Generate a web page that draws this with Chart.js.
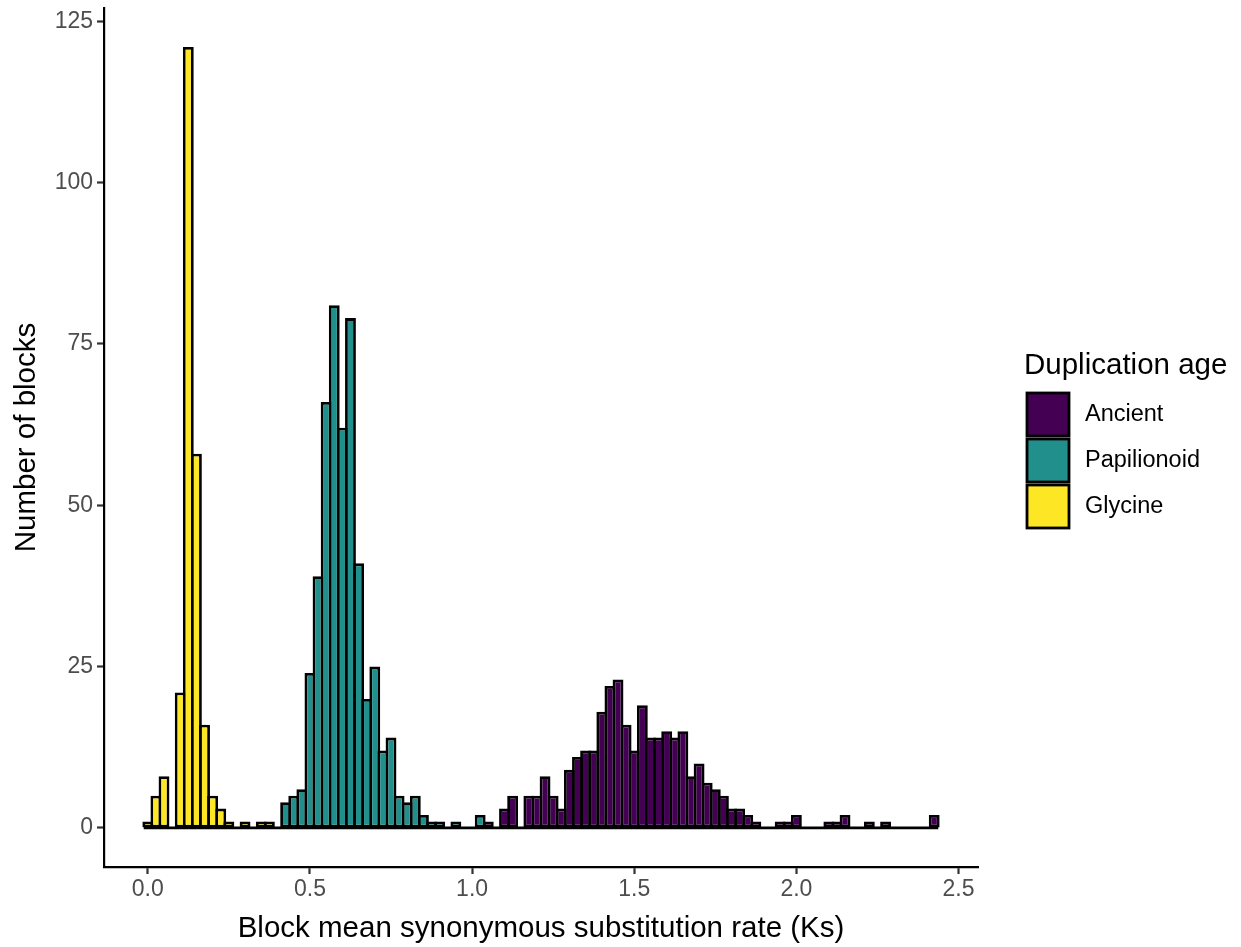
<!DOCTYPE html>
<html>
<head>
<meta charset="utf-8">
<title>Block mean Ks histogram</title>
<script src="https://cdn.jsdelivr.net/npm/chart.js@4.4.1/dist/chart.umd.min.js"></script>
<style>
  html, body { margin: 0; padding: 0; background: #ffffff; }
  #wrap { width: 1241px; height: 947px; }
  canvas { display: block; }
</style>
</head>
<body>
<div id="wrap"><canvas id="chart" width="1241" height="947"></canvas></div>
<script>
// Histogram bins: width and first bin centre of each series (Ks units)
const binWidth = 0.025;

const glycineStart = 0.0;
const glycineCounts = [1, 5, 8, 0, 21, 121, 58, 16, 5, 3, 1, 0, 1, 0, 1, 1];

const papilionoidStart = 0.425;
const papilionoidCounts = [4, 5, 6, 24, 39, 66, 81, 62, 79, 41, 20, 25, 12, 14,
  5, 4, 5, 2, 1, 1, 0, 1, 0, 0, 2];

const ancientStart = 1.05;
const ancientCounts = [1, 0, 3, 5, 0, 5, 5, 8, 5, 3, 9, 11, 12, 12, 18, 22, 23,
  16, 12, 19, 14, 14, 15, 14, 15, 8, 10, 7, 6, 5, 3, 3, 2, 1, 0, 0, 1, 1, 2,
  0, 0, 0, 1, 1, 2, 0, 0, 1, 0, 1, 0, 0, 0, 0, 0, 2];

const seriesNames = ['Ancient', 'Papilionoid', 'Glycine'];
const seriesColors = ['#440154', '#21908C', '#FDE725'];
const legendTitle = 'Duplication age';

const xTicks = [0.0, 0.5, 1.0, 1.5, 2.0, 2.5];
const yTicks = [0, 25, 50, 75, 100, 125];

const xTitle = 'Block mean synonymous substitution rate (Ks)';
const yTitle = 'Number of blocks';

// ---- derived structures ----
function toBins(start, counts) {
  return counts.map((c, i) => ({ x: +(start + i * binWidth).toFixed(4), y: c }));
}
const seriesBins = [
  toBins(ancientStart, ancientCounts),
  toBins(papilionoidStart, papilionoidCounts),
  toBins(glycineStart, glycineCounts)
];

// outer bin edges and expanded axis ranges (5% on each side)
const firstEdge = glycineStart - binWidth / 2;
const lastEdge = ancientStart + (ancientCounts.length - 0.5) * binWidth;
const xSpan = lastEdge - firstEdge;
const xMin = firstEdge - 0.05 * xSpan;
const xMax = lastEdge + 0.05 * xSpan;
const maxCount = Math.max(...glycineCounts, ...papilionoidCounts, ...ancientCounts);
const yMin = -0.05 * maxCount;
const yMax = maxCount * 1.05;

const FONT = '"Liberation Sans", Arial, Helvetica, sans-serif';
const AXIS_LINE = 2.2;
const BAR_LINE = 2.8;

const barDatasets = seriesBins.map((data, i) => ({
  type: 'bar',
  label: seriesNames[i],
  data: data,
  backgroundColor: seriesColors[i],
  borderColor: '#000000',
  borderWidth: BAR_LINE,
  borderSkipped: false,
  grouped: false,
  barPercentage: 1.34,
  categoryPercentage: 1.0,
  order: 1
}));

// zero-count bins still show their outline along the baseline
const baseline = {
  type: 'line',
  label: 'baseline',
  data: [{ x: firstEdge, y: 0 }, { x: lastEdge, y: 0 }],
  borderColor: '#000000',
  borderWidth: BAR_LINE,
  pointRadius: 0,
  order: 2
};

const legendPlugin = {
  id: 'ageLegend',
  afterDraw(chart) {
    const ctx = chart.ctx;
    ctx.save();
    ctx.fillStyle = '#000000';
    ctx.textAlign = 'left';
    ctx.textBaseline = 'alphabetic';
    ctx.font = '29.5px ' + FONT;
    ctx.fillText(legendTitle, 1024, 374);
    seriesNames.forEach((name, i) => {
      const y = 393 + i * 46;
      ctx.fillStyle = seriesColors[i];
      ctx.fillRect(1027, y, 42, 43);
      ctx.strokeStyle = '#000000';
      ctx.lineWidth = BAR_LINE;
      ctx.strokeRect(1027, y, 42, 43);
      ctx.fillStyle = '#000000';
      ctx.font = '23.5px ' + FONT;
      ctx.textBaseline = 'middle';
      ctx.fillText(name, 1085, y + 22);
    });
    ctx.restore();
  }
};

function noEdgePadding(scale) {
  scale.paddingTop = 0;
  scale.paddingBottom = 0;
  scale.paddingLeft = 0;
  scale.paddingRight = 0;
}

new Chart(document.getElementById('chart'), {
  type: 'bar',
  data: { datasets: [...barDatasets, baseline] },
  options: {
    responsive: false,
    animation: false,
    devicePixelRatio: 1,
    layout: { padding: { left: 0, top: 8, right: 263, bottom: 0 } },
    plugins: {
      legend: { display: false },
      tooltip: { enabled: false }
    },
    scales: {
      x: {
        type: 'linear',
        min: xMin,
        max: xMax,
        offset: false,
        afterBuildTicks: s => { s.ticks = xTicks.map(v => ({ value: v })); },
        afterFit: s => { s.height = 80; noEdgePadding(s); },
        ticks: {
          autoSkip: false,
          maxRotation: 0,
          padding: 2,
          color: '#4D4D4D',
          font: { family: FONT, size: 23 },
          callback: v => v.toFixed(1)
        },
        grid: {
          display: true,
          offset: false,
          drawOnChartArea: false,
          drawTicks: true,
          tickLength: 7,
          tickWidth: AXIS_LINE,
          tickColor: '#333333'
        },
        border: { display: true, color: '#000000', width: AXIS_LINE },
        title: {
          display: true,
          text: xTitle,
          color: '#000000',
          font: { family: FONT, size: 29.5 },
          padding: { top: 0, bottom: 0 }
        }
      },
      y: {
        type: 'linear',
        min: yMin,
        max: yMax,
        afterBuildTicks: s => { s.ticks = yTicks.map(v => ({ value: v })); },
        afterFit: s => { s.width = 104; noEdgePadding(s); },
        ticks: {
          autoSkip: false,
          padding: 4,
          color: '#4D4D4D',
          font: { family: FONT, size: 23 },
          callback: v => String(v)
        },
        grid: {
          display: true,
          offset: false,
          drawOnChartArea: false,
          drawTicks: true,
          tickLength: 7,
          tickWidth: AXIS_LINE,
          tickColor: '#333333'
        },
        border: { display: true, color: '#000000', width: AXIS_LINE },
        title: {
          display: true,
          text: yTitle,
          color: '#000000',
          font: { family: FONT, size: 29.5 },
          padding: { top: 9, bottom: 0 }
        }
      }
    }
  },
  plugins: [legendPlugin]
});
</script>
</body>
</html>
